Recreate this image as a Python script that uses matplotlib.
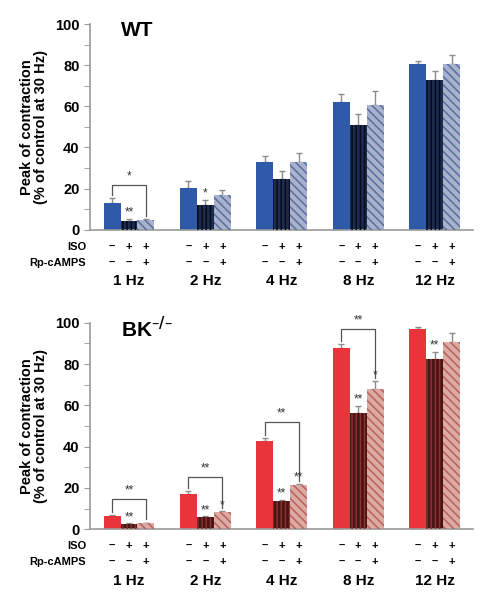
import matplotlib
matplotlib.use("Agg")
import matplotlib.pyplot as plt
import numpy as np

plt.rcParams['font.family'] = ['Liberation Sans', 'DejaVu Sans']
plt.rcParams['font.weight'] = 'bold'
plt.rcParams['axes.labelweight'] = 'bold'
plt.rcParams['hatch.linewidth'] = 1.1

freqs = ['1 Hz', '2 Hz', '4 Hz', '8 Hz', '12 Hz']
iso_signs = ['\u2013', '+', '+']
rp_signs = ['\u2013', '\u2013', '+']

# WT: control, ISO, ISO + Rp-cAMPS
wt_ctrl = [12.9, 20.5, 32.8, 62.0, 80.4]
wt_ctrl_err = [2.7, 3.0, 3.2, 3.9, 1.8]
wt_iso = [4.4, 12.1, 24.6, 50.8, 72.7]
wt_iso_err = [0.8, 2.5, 4.0, 5.5, 4.5]
wt_rp = [4.9, 16.7, 32.8, 60.7, 80.4]
wt_rp_err = [0.5, 2.7, 4.7, 6.8, 4.6]

# BK-/-
bk_ctrl = [6.2, 16.9, 42.7, 87.7, 96.9]
bk_ctrl_err = [0.8, 1.4, 1.3, 2.2, 1.1]
bk_iso = [2.3, 5.7, 13.8, 56.3, 82.5]
bk_iso_err = [0.5, 0.5, 0.5, 3.6, 3.4]
bk_rp = [2.9, 8.1, 21.3, 67.7, 90.9]
bk_rp_err = [0.3, 0.5, 0.6, 3.9, 4.2]

# significance marks: (group, bar, label)
wt_stars = [(0, 1, '**'), (1, 1, '*')]
bk_stars = [(0, 1, '**'), (1, 1, '**'), (1, 2, '*'), (2, 1, '**'), (2, 2, '**'),
            (3, 1, '**'), (3, 2, '*'), (4, 1, '**')]
# brackets: (group, top y, label)
wt_brackets = [(0, 21.8, '*')]
bk_brackets = [(0, 14.6, '**'), (1, 25.3, '**'), (2, 51.8, '**'), (3, 96.8, '**')]

w = 0.222
x = np.arange(len(freqs))

fig = plt.figure(figsize=(4.84, 6.0), dpi=100)


def panel(rect, title, vals, errs, styles, stars, brackets):
    ax = fig.add_axes(rect)
    for j in range(3):
        xs = x + (j - 1) * w
        face, hcol, hatch = styles[j]
        ax.bar(xs, vals[j], w, color=face, linewidth=0, zorder=2)
        if hatch:
            ax.bar(xs, vals[j], w, facecolor='none', edgecolor=hcol,
                   linewidth=0, hatch=hatch, zorder=3)
        ax.errorbar(xs, vals[j], yerr=[np.zeros(len(x)), errs[j]], fmt='none',
                    ecolor='#8c8c8c', elinewidth=1, capsize=2.5, capthick=1, zorder=1)
    for g, b, lab in stars:
        top = vals[b][g] + errs[b][g]
        ax.text(x[g] + (b - 1) * w, top + 0.2, lab, ha='center', va='bottom',
                fontsize=8.5, fontweight='normal', color='#333333')
    for g, ytop, lab in brackets:
        y1 = vals[0][g] + errs[0][g] + 1.5
        y3 = vals[2][g] + errs[2][g] + 1.5
        xl, xr = x[g] - w, x[g] + w
        ax.plot([xl, xl, xr, xr], [y1, ytop, ytop, y3], color='#555555', lw=0.9)
        ax.text(x[g], ytop + 1.2, lab, ha='center', va='bottom', fontsize=8.5,
                fontweight='normal', color='#333333')
    ax.set_xlim(-0.51, 4.5)
    ax.set_ylim(0, 100)
    ax.set_yticks(np.arange(0, 101, 20))
    ax.set_yticks(np.arange(10, 100, 20), minor=True)
    ax.tick_params(axis='y', which='both', direction='out', length=4, color='#999999',
                   labelsize=10.5)
    for lbl in ax.get_yticklabels():
        lbl.set_fontweight('bold')
    ax.tick_params(axis='x', length=0, labelbottom=False)
    for s in ['top', 'right']:
        ax.spines[s].set_visible(False)
    for s in ['left', 'bottom']:
        ax.spines[s].set_color('#999999')
        ax.spines[s].set_linewidth(1.2)
    ax.set_ylabel('Peak of contraction\n(% of control at 30 Hz)', fontsize=10.5,
                  labelpad=5, linespacing=1.05)
    tr = ax.get_xaxis_transform()
    for g in range(len(x)):
        for j in range(3):
            ax.text(x[g] + (j - 1) * w, -0.083, iso_signs[j], transform=tr,
                    ha='center', va='center', fontsize=8)
            ax.text(x[g] + (j - 1) * w, -0.16, rp_signs[j], transform=tr,
                    ha='center', va='center', fontsize=8)
        ax.text(x[g], -0.25, freqs[g], transform=tr, ha='center', va='center',
                fontsize=11)
    ax.text(-0.56, -0.083, 'ISO', transform=tr, ha='right', va='center', fontsize=8)
    ax.text(-0.56, -0.16, 'Rp-cAMPS', transform=tr, ha='right', va='center', fontsize=8)
    ax.text(0.08, 0.97, title, transform=ax.transAxes, ha='left', va='center',
            fontsize=15)
    return ax


wt_styles = [('#2f5aa8', None, None), ('#1c2b50', '#080c18', '||||'),
             ('#a8b2cc', '#5a6e9e', '\\\\\\\\')]
bk_styles = [('#e8343a', None, None), ('#4a1414', '#8a3030', '||||'),
             ('#dcaaa4', '#b8605a', '\\\\\\\\')]

panel([0.186, 0.617, 0.791, 0.343], 'WT', [wt_ctrl, wt_iso, wt_rp],
      [wt_ctrl_err, wt_iso_err, wt_rp_err], wt_styles, wt_stars, wt_brackets)
panel([0.186, 0.118, 0.791, 0.344], 'BK$^{\u2013/\u2013}$', [bk_ctrl, bk_iso, bk_rp],
      [bk_ctrl_err, bk_iso_err, bk_rp_err], bk_styles, bk_stars, bk_brackets)

fig.savefig('out.png', dpi=100)
